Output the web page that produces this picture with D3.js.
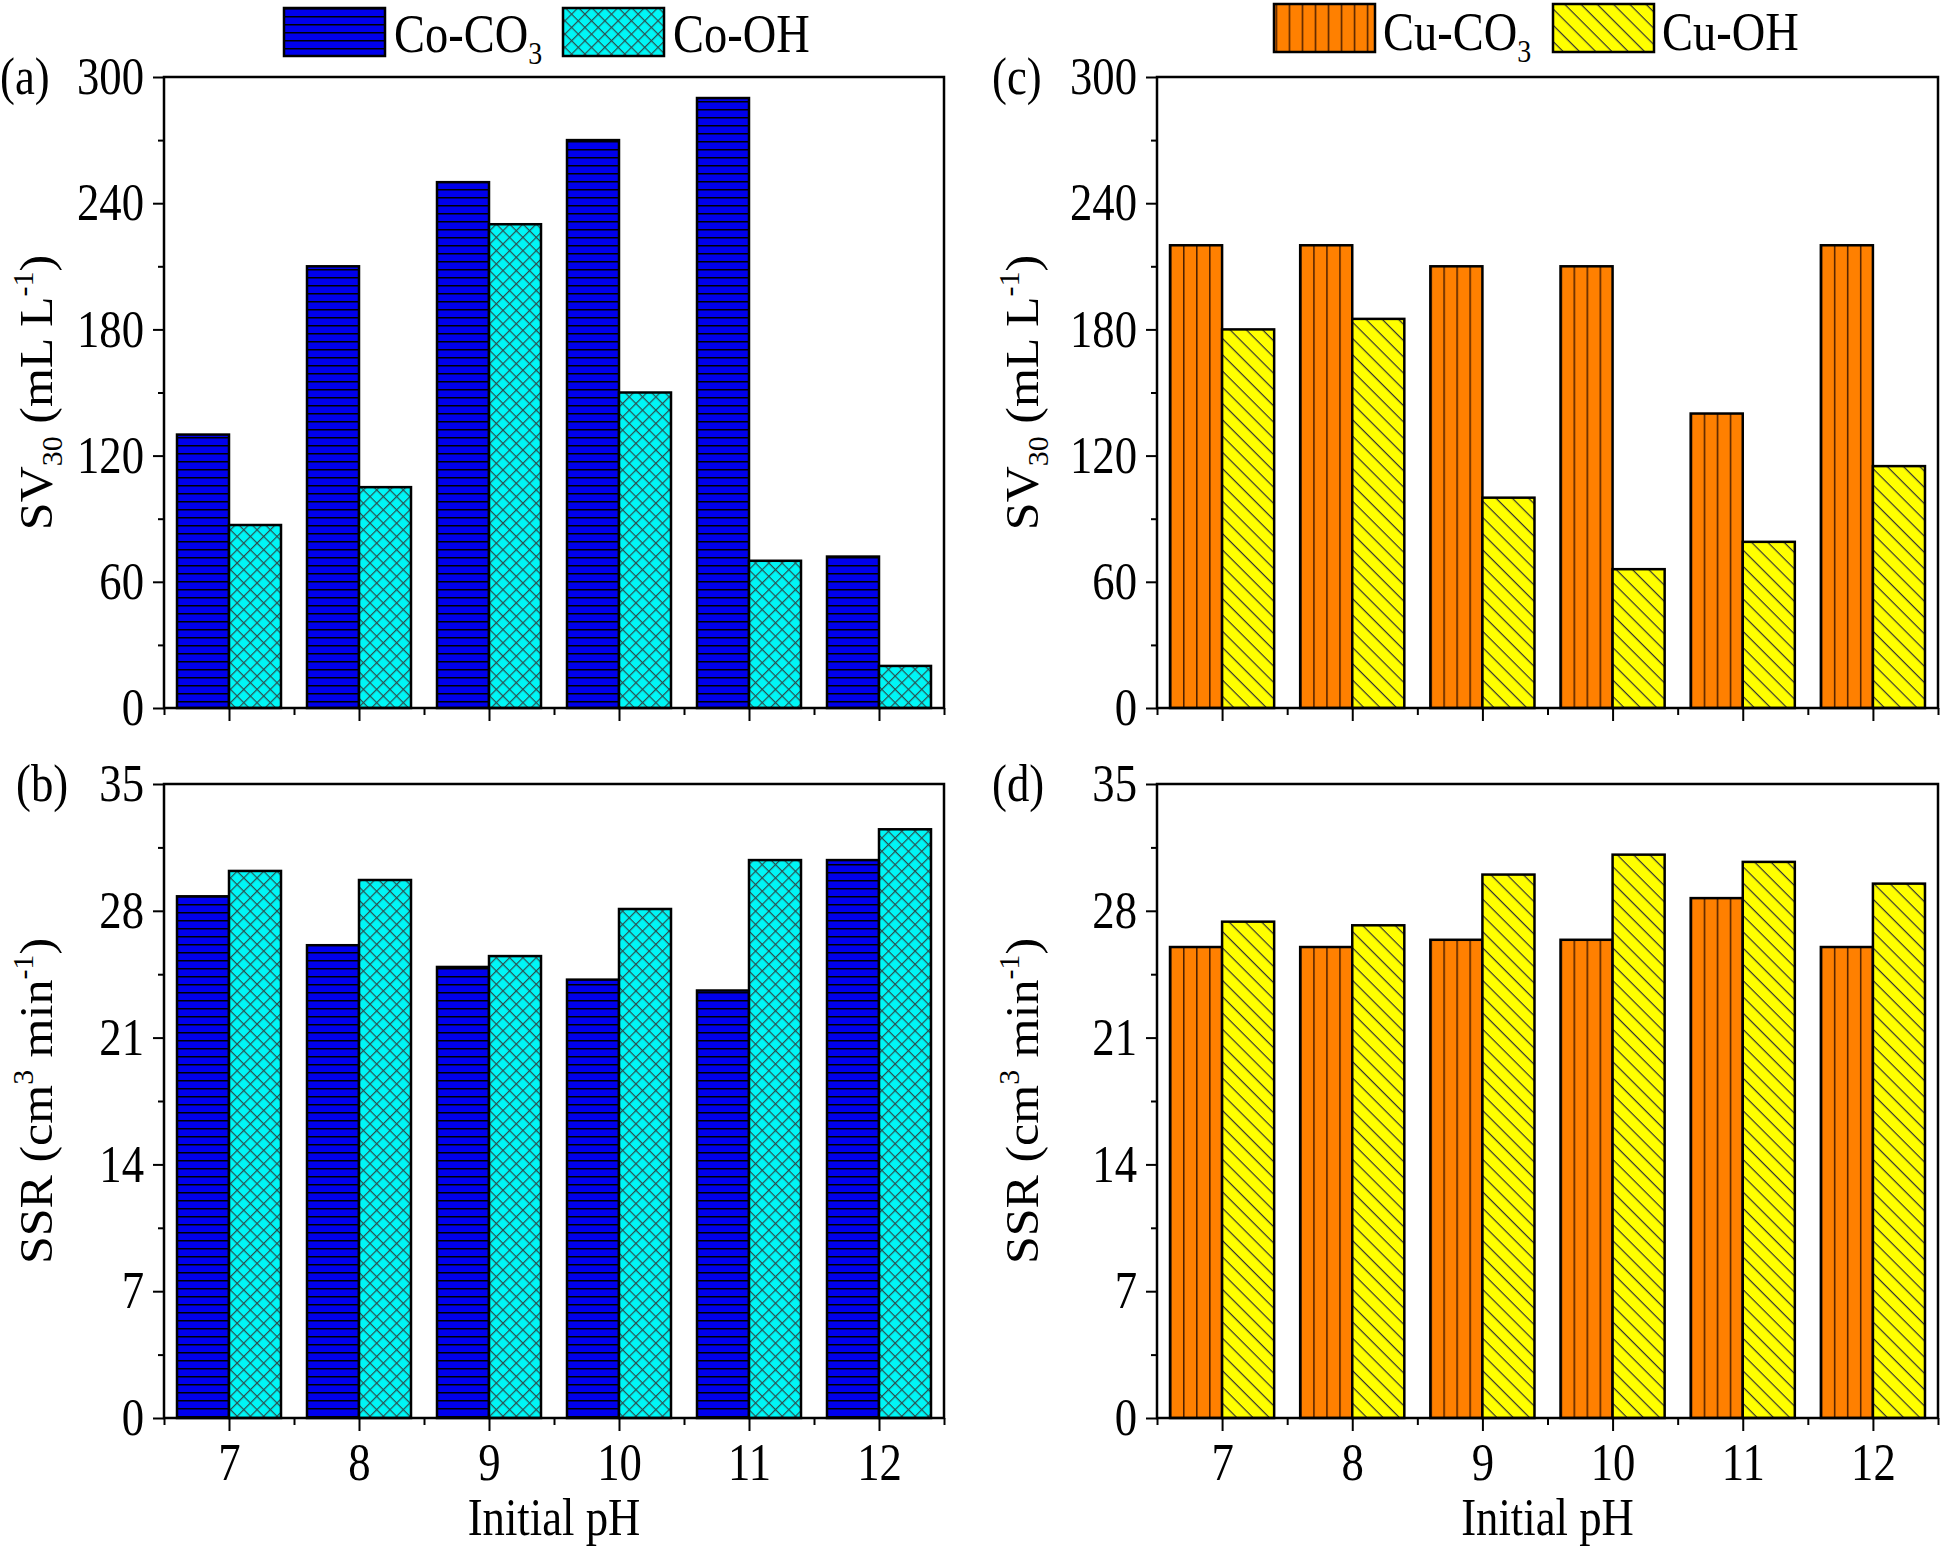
<!DOCTYPE html>
<html>
<head>
<meta charset="utf-8">
<script src="https://cdn.jsdelivr.net/npm/d3@7"></script>
<style>
body{margin:0;background:#fff}
svg text{font-family:"Liberation Serif","Times New Roman",serif;fill:#000}
</style>
</head>
<body>
<svg id="chart" width="1944" height="1550" font-family="Liberation Serif"></svg>
<script>
// data
const pH = [7, 8, 9, 10, 11, 12]
const svCoCO3 = [130, 210, 250, 270, 290, 72]
const svCoOH = [87, 105, 230, 150, 70, 20]
const ssrCoCO3 = [28.8, 26.1, 24.9, 24.2, 23.6, 30.8]
const ssrCoOH = [30.2, 29.7, 25.5, 28.1, 30.8, 32.5]
const svCuCO3 = [220, 220, 210, 210, 140, 220]
const svCuOH = [180, 185, 100, 66, 79, 115]
const ssrCuCO3 = [26.0, 26.0, 26.4, 26.4, 28.7, 26.0]
const ssrCuOH = [27.4, 27.2, 30.0, 31.1, 30.7, 29.5]
const svTicks = [0, 60, 120, 180, 240, 300]
const ssrTicks = [0, 7, 14, 21, 28, 35]

const SQ = 0.86  // original figure text looks squeezed sideways
const FS = 52    // font size for ticks/labels

const svg = d3.select("#chart")
const defs = svg.append("defs")

// hatch patterns
function addPattern(id, w, h, fill, rot, lines, stroke, sw) {
  let p = defs.append("pattern").attr("id", id)
    .attr("patternUnits", "userSpaceOnUse")
    .attr("width", w).attr("height", h)
  if (rot) p.attr("patternTransform", "rotate(" + rot + ")")
  p.append("rect").attr("width", w).attr("height", h).attr("fill", fill)
  lines.forEach(l => {
    p.append("line").attr("x1", l[0]).attr("y1", l[1]).attr("x2", l[2]).attr("y2", l[3])
      .attr("stroke", stroke).attr("stroke-width", sw)
  })
}
const unitPx = (1938 - 1157) / 6        // one pH unit on the right panels
const stripe = unitPx * 0.1             // 4 stripes per orange bar
addPattern("hBlue", 10, 8, "#0000ec", 0, [[0, 0.75, 10, 0.75]], "#000", 1.5)
addPattern("xCyan", 9.4, 9.4, "#00f6f6", 45, [[0, 0.6, 9.4, 0.6], [0.6, 0, 0.6, 9.4]], "#2b4f4f", 1.2)
addPattern("vOrange", stripe, 10, "#ff8000", 0, [[0.75, 0, 0.75, 10]], "#4d1f00", 1.5)
addPattern("dYellow", 11.5, 11.5, "#ffff00", 45, [[0, 0.6, 11.5, 0.6]], "#333", 1.2)

const panels = [
  {tag: "(a)", tagX: 0, x0: 164, x1: 944, y0: 77, y1: 708, s1: svCoCO3, s2: svCoOH, p1: "hBlue", p2: "xCyan", ticks: svTicks, title: "sv", titleX: 52, xLabels: false},
  {tag: "(b)", tagX: 16, x0: 164, x1: 944, y0: 784, y1: 1418, s1: ssrCoCO3, s2: ssrCoOH, p1: "hBlue", p2: "xCyan", ticks: ssrTicks, title: "ssr", titleX: 52, xLabels: true},
  {tag: "(c)", tagX: 992, x0: 1157, x1: 1938, y0: 77, y1: 708, s1: svCuCO3, s2: svCuOH, p1: "vOrange", p2: "dYellow", ticks: svTicks, title: "sv", titleX: 1038, xLabels: false},
  {tag: "(d)", tagX: 992, x0: 1157, x1: 1938, y0: 784, y1: 1418, s1: ssrCuCO3, s2: ssrCuOH, p1: "vOrange", p2: "dYellow", ticks: ssrTicks, title: "ssr", titleX: 1038, xLabels: true}
]

function midpoints(arr) { return arr.slice(1).map((t, i) => (t + arr[i]) / 2) }

panels.forEach(p => {
  const w = p.x1 - p.x0, h = p.y1 - p.y0
  const g = svg.append("g").attr("transform", "translate(" + p.x0 + "," + p.y0 + ")")
  const x = d3.scaleLinear().domain([6.5, 12.5]).range([0, w])
  const y = d3.scaleLinear().domain([0, d3.max(p.ticks)]).range([h, 0])
  const bw = x(7) - x(6.6)

  const rows = pH.map((v, i) => ({ph: v, a: p.s1[i], b: p.s2[i]}))

  g.selectAll(".bar1").data(rows).join("rect")
    .attr("x", d => x(d.ph - 0.4)).attr("y", d => y(d.a))
    .attr("width", bw).attr("height", d => h - y(d.a))
    .attr("fill", "url(#" + p.p1 + ")").attr("stroke", "#000").attr("stroke-width", 2.5)
  g.selectAll(".bar2").data(rows).join("rect")
    .attr("x", d => x(d.ph)).attr("y", d => y(d.b))
    .attr("width", bw).attr("height", d => h - y(d.b))
    .attr("fill", "url(#" + p.p2 + ")").attr("stroke", "#000").attr("stroke-width", 2.5)

  //frame
  g.append("rect").attr("width", w).attr("height", h)
    .attr("fill", "none").attr("stroke", "#000").attr("stroke-width", 2.5)

  // y axis, major + minor
  const ya = g.append("g").call(d3.axisLeft(y).tickValues(p.ticks).tickSize(11).tickPadding(9))
  ya.attr("font-family", null)
  ya.select(".domain").remove()
  ya.selectAll("line").attr("stroke-width", 2)
  ya.selectAll("text").attr("font-size", FS)
    .attr("x", -20 / SQ).attr("transform", "scale(" + SQ + ",1)")
  const ym = g.append("g").call(d3.axisLeft(y).tickValues(midpoints(p.ticks)).tickSize(6).tickFormat(""))
  ym.select(".domain").remove()
  ym.selectAll("line").attr("stroke-width", 2)

  // x axis
  const xa = g.append("g").attr("transform", "translate(0," + h + ")")
    .call(d3.axisBottom(x).tickValues(pH).tickSize(13).tickPadding(12).tickFormat(p.xLabels ? d3.format("d") : ""))
  xa.attr("font-family", null)
  xa.select(".domain").remove()
  xa.selectAll("line").attr("stroke-width", 2)
  xa.selectAll("text").attr("font-size", FS).attr("transform", "scale(" + SQ + ",1)")
  const xm = g.append("g").attr("transform", "translate(0," + h + ")")
    .call(d3.axisBottom(x).tickValues(pH.map(v => v - 0.5).concat([12.5])).tickSize(7).tickFormat(""))
  xm.select(".domain").remove()
  xm.selectAll("line").attr("stroke-width", 2)

  // panel tag
  svg.append("text").attr("transform", "translate(" + p.tagX + "," + (p.y0 + 17) + ") scale(" + SQ + ",1)")
    .attr("font-size", FS).text(p.tag)

  // y title, rotated
  const TS = 50
  const t = svg.append("text")
    .attr("transform", "translate(" + p.titleX + "," + (p.y0 + h / 2) + ") rotate(-90) scale(1,0.95)")
    .attr("text-anchor", "middle").attr("font-size", TS)
  if (p.title == "sv") {
    t.append("tspan").text("SV")
    t.append("tspan").attr("font-size", TS * 0.6).attr("dy", 10).text("30")
    t.append("tspan").attr("dy", -10).text(" (mL L")
    t.append("tspan").attr("font-size", TS * 0.6).attr("dy", -20).text("-1")
    t.append("tspan").attr("dy", 20).text(")")
  } else {
    t.append("tspan").text("SSR (cm")
    t.append("tspan").attr("font-size", TS * 0.6).attr("dy", -20).text("3")
    t.append("tspan").attr("dy", 20).text(" min")
    t.append("tspan").attr("font-size", TS * 0.6).attr("dy", -20).text("-1")
    t.append("tspan").attr("dy", 20).text(")")
  }

  if (p.xLabels) {
    svg.append("text")
      .attr("transform", "translate(" + (p.x0 + w / 2) + ",1535) scale(" + SQ + ",1)")
      .attr("text-anchor", "middle").attr("font-size", FS).text("Initial pH")
  }
})

// legends
const LS = 54
const legendItems = [
  {sx: 284, sy: 8, tx: 394, ty: 52, name: "Co-CO", sub: "3", pat: "hBlue"},
  {sx: 563, sy: 8, tx: 673, ty: 52, name: "Co-OH", sub: "", pat: "xCyan"},
  {sx: 1274, sy: 4, tx: 1383, ty: 50, name: "Cu-CO", sub: "3", pat: "vOrange"},
  {sx: 1553, sy: 4, tx: 1662, ty: 50, name: "Cu-OH", sub: "", pat: "dYellow"}
]
legendItems.forEach(d => {
  svg.append("rect").attr("x", d.sx).attr("y", d.sy).attr("width", 101).attr("height", 48)
    .attr("fill", "url(#" + d.pat + ")").attr("stroke", "#000").attr("stroke-width", 2.5)
  const t = svg.append("text").attr("transform", "translate(" + d.tx + "," + d.ty + ") scale(" + SQ + ",1)")
    .attr("font-size", LS)
  t.append("tspan").text(d.name)
  if (d.sub) t.append("tspan").attr("font-size", LS * 0.6).attr("dy", 12).text(d.sub)
})
</script>
</body>
</html>
